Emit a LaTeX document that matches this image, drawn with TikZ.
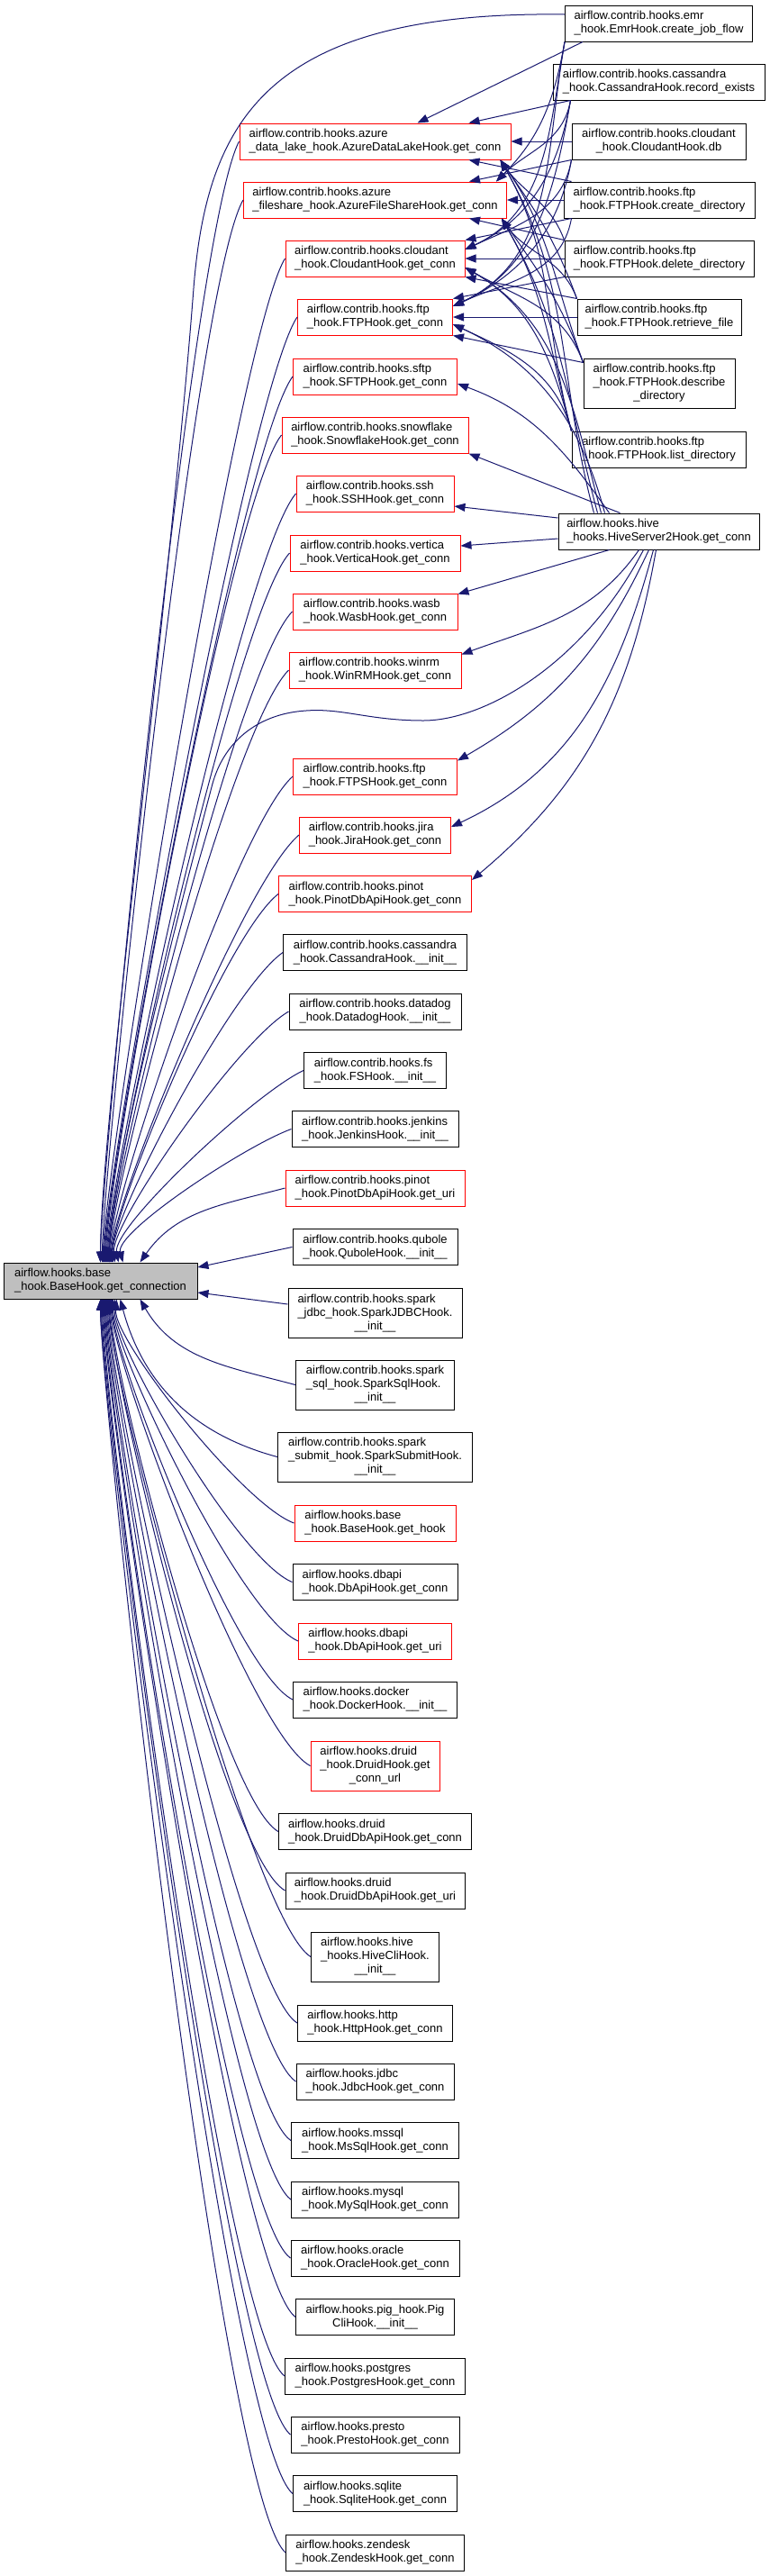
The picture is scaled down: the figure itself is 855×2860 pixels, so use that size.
\documentclass[tikz,border=0pt]{standalone}
\usepackage{fontspec}
\setmainfont{Liberation Sans}
\usepackage{xcolor}
\definecolor{edgeBlue}{HTML}{191970}
\definecolor{hookRed}{HTML}{FF0000}
\definecolor{baseGray}{HTML}{BFBFBF}
\usetikzlibrary{arrows.meta}

\newcommand{\hookfont}{\fontsize{3.25}{3.75}\selectfont}
\newcommand{\twol}[2]{\begin{tabular}{@{}l@{}}#1\\\multicolumn{1}{@{}c@{}}{#2}\end{tabular}}
\newcommand{\threel}[3]{\begin{tabular}{@{}l@{}}#1\\#2\\\multicolumn{1}{@{}c@{}}{#3}\end{tabular}}

\tikzset{
  fn/.style={draw=black, line width=0.25pt, rectangle, inner sep=0pt, minimum height=10pt, font=\hookfont},
  fnred/.style={fn, draw=hookRed},
  fnbase/.style={fn, fill=baseGray},
  tall/.style={minimum height=13.75pt},
  bw/.style={minimum width=#1*0.25pt},
  calledge/.style={draw=edgeBlue, line width=0.25pt, -{Triangle[length=3pt,width=2.25pt]}},
}

\begin{document}
\begin{tikzpicture}[x=0.25pt, y=0.25pt]
  \path[use as bounding box, fill=white] (0,0) rectangle (855,-2860);

  % caller on the left
  \node[fnbase, bw=215] (base) at (111.5,-1422) {\twol{airflow.hooks.base}{\_hook.BaseHook.get\_connection}};

  % middle column
  \node[fnred, bw=301] (adl) at (416.5,-157) {\twol{airflow.contrib.hooks.azure}{\_data\_lake\_hook.AzureDataLakeHook.get\_conn}};
  \node[fnred, bw=292] (afs) at (416.5,-222) {\twol{airflow.contrib.hooks.azure}{\_fileshare\_hook.AzureFileShareHook.get\_conn}};
  \node[fnred, bw=199] (cldc) at (416.5,-287) {\twol{airflow.contrib.hooks.cloudant}{\_hook.CloudantHook.get\_conn}};
  \node[fnred, bw=172] (ftpc) at (416.5,-352) {\twol{airflow.contrib.hooks.ftp}{\_hook.FTPHook.get\_conn}};
  \node[fnred, bw=182] (sftp) at (416.5,-418) {\twol{airflow.contrib.hooks.sftp}{\_hook.SFTPHook.get\_conn}};
  \node[fnred, bw=207] (snow) at (416.5,-483) {\twol{airflow.contrib.hooks.snowflake}{\_hook.SnowflakeHook.get\_conn}};
  \node[fnred, bw=175] (ssh) at (416.5,-548) {\twol{airflow.contrib.hooks.ssh}{\_hook.SSHHook.get\_conn}};
  \node[fnred, bw=189] (vert) at (416.5,-614) {\twol{airflow.contrib.hooks.vertica}{\_hook.VerticaHook.get\_conn}};
  \node[fnred, bw=183] (wasb) at (416.5,-679) {\twol{airflow.contrib.hooks.wasb}{\_hook.WasbHook.get\_conn}};
  \node[fnred, bw=191] (winrm) at (416.5,-744) {\twol{airflow.contrib.hooks.winrm}{\_hook.WinRMHook.get\_conn}};
  \node[fnred, bw=182] (ftps) at (416.5,-862) {\twol{airflow.contrib.hooks.ftp}{\_hook.FTPSHook.get\_conn}};
  \node[fnred, bw=168] (jira) at (416.5,-927) {\twol{airflow.contrib.hooks.jira}{\_hook.JiraHook.get\_conn}};
  \node[fnred, bw=214] (pinc) at (416.5,-992.5) {\twol{airflow.contrib.hooks.pinot}{\_hook.PinotDbApiHook.get\_conn}};
  \node[fn, bw=204] (cass) at (416.5,-1057.5) {\twol{airflow.contrib.hooks.cassandra}{\_hook.CassandraHook.\_\_init\_\_}};
  \node[fn, bw=191] (ddog) at (416.5,-1123) {\twol{airflow.contrib.hooks.datadog}{\_hook.DatadogHook.\_\_init\_\_}};
  \node[fn, bw=158] (fs) at (416.5,-1188.5) {\twol{airflow.contrib.hooks.fs}{\_hook.FSHook.\_\_init\_\_}};
  \node[fn, bw=185] (jenk) at (416.5,-1253.5) {\twol{airflow.contrib.hooks.jenkins}{\_hook.JenkinsHook.\_\_init\_\_}};
  \node[fnred, bw=199] (pinu) at (416.5,-1319) {\twol{airflow.contrib.hooks.pinot}{\_hook.PinotDbApiHook.get\_uri}};
  \node[fn, bw=183] (qub) at (416.5,-1384.5) {\twol{airflow.contrib.hooks.qubole}{\_hook.QuboleHook.\_\_init\_\_}};
  \node[fn, bw=193, tall] (sjdbc) at (416.5,-1458) {\threel{airflow.contrib.hooks.spark}{\_jdbc\_hook.SparkJDBCHook.}{\_\_init\_\_}};
  \node[fn, bw=176, tall] (ssql) at (416.5,-1537.5) {\threel{airflow.contrib.hooks.spark}{\_sql\_hook.SparkSqlHook.}{\_\_init\_\_}};
  \node[fn, bw=216, tall] (ssub) at (416.5,-1617.5) {\threel{airflow.contrib.hooks.spark}{\_submit\_hook.SparkSubmitHook.}{\_\_init\_\_}};
  \node[fnred, bw=179] (geth) at (416.5,-1691) {\twol{airflow.hooks.base}{\_hook.BaseHook.get\_hook}};
  \node[fn, bw=183] (dbc) at (416.5,-1756.5) {\twol{airflow.hooks.dbapi}{\_hook.DbApiHook.get\_conn}};
  \node[fnred, bw=170] (dbu) at (416.5,-1822) {\twol{airflow.hooks.dbapi}{\_hook.DbApiHook.get\_uri}};
  \node[fn, bw=182] (dock) at (416.5,-1887) {\twol{airflow.hooks.docker}{\_hook.DockerHook.\_\_init\_\_}};
  \node[fnred, bw=143, tall] (drurl) at (416.5,-1960.5) {\threel{airflow.hooks.druid}{\_hook.DruidHook.get}{\_conn\_url}};
  \node[fn, bw=214] (drc) at (416.5,-2033.5) {\twol{airflow.hooks.druid}{\_hook.DruidDbApiHook.get\_conn}};
  \node[fn, bw=199] (dru) at (416.5,-2099) {\twol{airflow.hooks.druid}{\_hook.DruidDbApiHook.get\_uri}};
  \node[fn, bw=142, tall] (hcli) at (416.5,-2172.5) {\threel{airflow.hooks.hive}{\_hooks.HiveCliHook.}{\_\_init\_\_}};
  \node[fn, bw=172] (http) at (416.5,-2246) {\twol{airflow.hooks.http}{\_hook.HttpHook.get\_conn}};
  \node[fn, bw=175] (jdbc) at (416.5,-2311) {\twol{airflow.hooks.jdbc}{\_hook.JdbcHook.get\_conn}};
  \node[fn, bw=186] (mssql) at (416.5,-2376.5) {\twol{airflow.hooks.mssql}{\_hook.MsSqlHook.get\_conn}};
  \node[fn, bw=186] (mysql) at (416.5,-2442) {\twol{airflow.hooks.mysql}{\_hook.MySqlHook.get\_conn}};
  \node[fn, bw=187] (orcl) at (416.5,-2507) {\twol{airflow.hooks.oracle}{\_hook.OracleHook.get\_conn}};
  \node[fn, bw=176] (pig) at (416.5,-2572.5) {\twol{airflow.hooks.pig\_hook.Pig}{CliHook.\_\_init\_\_}};
  \node[fn, bw=200] (pg) at (416.5,-2638) {\twol{airflow.hooks.postgres}{\_hook.PostgresHook.get\_conn}};
  \node[fn, bw=187] (presto) at (416.5,-2703) {\twol{airflow.hooks.presto}{\_hook.PrestoHook.get\_conn}};
  \node[fn, bw=182] (sqlite) at (416.5,-2768.5) {\twol{airflow.hooks.sqlite}{\_hook.SqliteHook.get\_conn}};
  \node[fn, bw=198] (zen) at (416.5,-2834) {\twol{airflow.hooks.zendesk}{\_hook.ZendeskHook.get\_conn}};

  % right column
  \node[fn, bw=208] (emr) at (731.5,-26) {\twol{airflow.contrib.hooks.emr}{\_hook.EmrHook.create\_job\_flow}};
  \node[fn, bw=235] (cassrec) at (731.5,-91) {\twol{airflow.contrib.hooks.cassandra}{\_hook.CassandraHook.record\_exists}};
  \node[fn, bw=193] (cloudb) at (731.5,-157) {\twol{airflow.contrib.hooks.cloudant}{\_hook.CloudantHook.db}};
  \node[fn, bw=212] (mkdir) at (732,-222) {\twol{airflow.contrib.hooks.ftp}{\_hook.FTPHook.create\_directory}};
  \node[fn, bw=210] (rmdir) at (732,-287) {\twol{airflow.contrib.hooks.ftp}{\_hook.FTPHook.delete\_directory}};
  \node[fn, bw=182] (retr) at (732,-352) {\twol{airflow.contrib.hooks.ftp}{\_hook.FTPHook.retrieve\_file}};
  \node[fn, bw=168, tall] (desc) at (732,-425.5) {\threel{airflow.contrib.hooks.ftp}{\_hook.FTPHook.describe}{\_directory}};
  \node[fn, bw=193] (listdir) at (731.5,-499) {\twol{airflow.contrib.hooks.ftp}{\_hook.FTPHook.list\_directory}};
  \node[fn, bw=223] (hive2) at (731.5,-590) {\twol{airflow.hooks.hive}{\_hooks.HiveServer2Hook.get\_conn}};

  % right column -> get_conn group
  \draw[calledge] ([xshift=5pt]emr.south west) -- ([xshift=11.75pt]adl.north);
  \draw[calledge] ([xshift=5pt]cassrec.south west) -- ([xshift=-11.75pt]adl.north east);
  \draw[calledge] (cloudb.west) -- (adl.east);
  \draw[calledge] ([xshift=2.25pt]mkdir.north west) -- ([xshift=-11.75pt]adl.south east);
  \draw[calledge] (rmdir.north west) to[out=110,in=-55] ([xshift=-3pt]adl.south east);
  \draw[calledge] (retr.north west) to[out=110,in=-55] ([xshift=-3pt]adl.south east);
  \draw[calledge] ([yshift=-1.25pt]desc.north west) to[out=110,in=-55] ([xshift=-3pt]adl.south east);
  \draw[calledge] (listdir.north west) to[out=105,in=-60] ([xshift=-3pt]adl.south east);
  \draw[calledge] ([xshift=10pt]hive2.north west) to[out=105,in=-60] ([xshift=-3pt]adl.south east);

  \draw[calledge] (emr.south west) to[out=-100,in=45] ([xshift=-3pt]afs.north east);
  \draw[calledge] ([xshift=5pt]cassrec.south west) to[out=-100,in=45] ([xshift=-3pt]afs.north east);
  \draw[calledge] (cloudb.south west) -- ([xshift=-10.5pt]afs.north east);
  \draw[calledge] (mkdir.west) -- (afs.east);
  \draw[calledge] (rmdir.north west) -- ([xshift=-10.5pt]afs.south east);
  \draw[calledge] (retr.north west) to[out=110,in=-55] ([xshift=-1.5pt]afs.south east);
  \draw[calledge] ([yshift=-1.25pt]desc.north west) to[out=110,in=-55] ([xshift=-1.5pt]afs.south east);
  \draw[calledge] (listdir.north west) to[out=105,in=-60] ([xshift=-1.5pt]afs.south east);
  \draw[calledge] ([xshift=11pt]hive2.north west) to[out=105,in=-60] ([xshift=-1.5pt]afs.south east);

  \draw[calledge] (emr.south west) to[out=-100,in=25] ([yshift=2.5pt]cldc.east);
  \draw[calledge] ([xshift=5pt]cassrec.south west) to[out=-100,in=25] ([yshift=2.5pt]cldc.east);
  \draw[calledge] (cloudb.south west) to[out=-100,in=25] ([yshift=2.5pt]cldc.east);
  \draw[calledge] ([xshift=2.25pt]mkdir.south west) -- (cldc.north east);
  \draw[calledge] (rmdir.west) -- (cldc.east);
  \draw[calledge] (retr.north west) -- (cldc.south east);
  \draw[calledge] ([yshift=-1.25pt]desc.north west) to[out=110,in=-30] ([yshift=-2.5pt]cldc.east);
  \draw[calledge] (listdir.north west) to[out=105,in=-30] ([yshift=-2.5pt]cldc.east);
  \draw[calledge] ([xshift=12pt]hive2.north west) to[out=105,in=-30] ([yshift=-2.5pt]cldc.east);

  \draw[calledge] (emr.south west) to[out=-100,in=25] ([yshift=3pt]ftpc.east);
  \draw[calledge] ([xshift=5pt]cassrec.south west) to[out=-100,in=25] ([yshift=3pt]ftpc.east);
  \draw[calledge] (cloudb.south west) to[out=-100,in=25] ([yshift=3pt]ftpc.east);
  \draw[calledge] ([xshift=2.25pt]mkdir.south west) to[out=-100,in=25] ([yshift=3pt]ftpc.east);
  \draw[calledge] (rmdir.south west) -- (ftpc.north east);
  \draw[calledge] (retr.west) -- (ftpc.east);
  \draw[calledge] ([yshift=-1.25pt]desc.north west) -- (ftpc.south east);
  \draw[calledge] (listdir.north west) to[out=105,in=-25] ([yshift=-2pt]ftpc.east);
  \draw[calledge] ([xshift=13pt]hive2.north west) to[out=105,in=-25] ([yshift=-2pt]ftpc.east);

  % HiveServer2Hook.get_conn -> other get_conn
  \draw[calledge] ([xshift=-13.75pt]hive2.north) to[out=125,in=-20] ([yshift=-2pt]sftp.east);
  \draw[calledge] ([xshift=-10.75pt]hive2.north) -- (snow.south east);
  \draw[calledge] ([yshift=3.75pt]hive2.west) -- ([yshift=-3.5pt]ssh.east);
  \draw[calledge] ([yshift=-2pt]hive2.west) -- ([yshift=2pt]vert.east);
  \draw[calledge] ([xshift=-13.75pt]hive2.south) -- ([yshift=-0.25pt]wasb.north east);
  \draw[calledge] ([xshift=-5.5pt]hive2.south) to[out=-125,in=20] ([yshift=-0.75pt]winrm.north east);
  \draw[calledge] ([xshift=-2.75pt]hive2.south) to[out=-115,in=30] ([yshift=-0.75pt]ftps.north east);
  \draw[calledge] ([xshift=-1.5pt]hive2.south) to[out=-105,in=25] ([yshift=2.25pt]jira.east);
  \draw[calledge] ([xshift=-0.75pt]hive2.south) to[out=-100,in=40] ([yshift=-1.25pt]pinc.north east);
  \draw[calledge] ([xshift=-4.25pt]hive2.south) .. controls (650,-735) and (540,-800) .. (470,-800)
    .. controls (410,-800) and (380,-786) .. (340,-789)
    .. controls (290,-792) and (250,-820) .. (236,-870)
    .. controls (215,-950) and (122,-1300) .. ([xshift=2.5pt]base.north);

  % emr straight to base
  \draw[calledge] ([yshift=2.5pt]emr.west) .. controls (300,-12) and (230,-130) .. (215,-320)
    .. controls (190,-650) and (112,-1250) .. (base.north);

  % callers above the base node
  \draw[calledge] (adl.west) .. controls +(242:115) and +(90:90) .. (base.north);
  \draw[calledge] (afs.west) .. controls +(240:110) and +(90:90) .. ([xshift=0.5pt]base.north);
  \draw[calledge] (cldc.west) .. controls +(238:100) and +(90:90) .. ([xshift=0.75pt]base.north);
  \draw[calledge] (ftpc.west) .. controls +(236:100) and +(90:85) .. ([xshift=1pt]base.north);
  \draw[calledge] (sftp.west) .. controls +(234:100) and +(90:85) .. ([xshift=1.25pt]base.north);
  \draw[calledge] (snow.west) .. controls +(232:95) and +(90:80) .. ([xshift=1.5pt]base.north);
  \draw[calledge] (ssh.west) .. controls +(230:95) and +(90:80) .. ([xshift=1.75pt]base.north);
  \draw[calledge] (vert.west) .. controls +(228:90) and +(90:75) .. ([xshift=2pt]base.north);
  \draw[calledge] (wasb.west) .. controls +(226:90) and +(90:75) .. ([xshift=2.25pt]base.north);
  \draw[calledge] (winrm.west) .. controls +(225:90) and +(90:70) .. ([xshift=2.5pt]base.north);
  \draw[calledge] (ftps.west) .. controls +(222:85) and +(90:65) .. ([xshift=2.75pt]base.north);
  \draw[calledge] (jira.west) .. controls +(220:80) and +(90:60) .. ([xshift=3pt]base.north);
  \draw[calledge] (pinc.west) .. controls +(218:75) and +(90:55) .. ([xshift=3.25pt]base.north);
  \draw[calledge] (cass.west) .. controls +(215:70) and +(92:50) .. ([xshift=3.5pt]base.north);
  \draw[calledge] (ddog.west) .. controls +(210:65) and +(95:45) .. ([xshift=4pt]base.north);
  \draw[calledge] (fs.west) .. controls +(205:60) and +(100:40) .. ([xshift=5pt]base.north);
  \draw[calledge] (jenk.west) .. controls +(200:55) and +(105:35) .. ([xshift=6.25pt]base.north);
  \draw[calledge] (pinu.west) to[out=195,in=55] ([xshift=11pt]base.north);
  \draw[calledge] (qub.west) -- ([yshift=3.75pt]base.east);

  % callers below the base node
  \draw[calledge] ([yshift=2.5pt]sjdbc.west) -- ([yshift=-3.25pt]base.east);
  \draw[calledge] (ssql.west) to[out=165,in=-60] ([xshift=11pt]base.south);
  \draw[calledge] (ssub.west) to[out=165,in=-75] ([xshift=5.5pt]base.south);
  \draw[calledge] (geth.west) .. controls +(160:60) and +(-95:45) .. ([xshift=4.5pt]base.south);
  \draw[calledge] (dbc.west) .. controls +(158:65) and +(-92:50) .. ([xshift=4pt]base.south);
  \draw[calledge] (dbu.west) .. controls +(156:70) and +(-90:55) .. ([xshift=3.5pt]base.south);
  \draw[calledge] (dock.west) .. controls +(154:70) and +(-90:60) .. ([xshift=3.25pt]base.south);
  \draw[calledge] (drurl.west) .. controls +(152:75) and +(-90:65) .. ([xshift=3pt]base.south);
  \draw[calledge] (drc.west) .. controls +(150:75) and +(-90:70) .. ([xshift=2.75pt]base.south);
  \draw[calledge] (dru.west) .. controls +(150:80) and +(-90:75) .. ([xshift=2.5pt]base.south);
  \draw[calledge] (hcli.west) .. controls +(148:80) and +(-90:75) .. ([xshift=2.25pt]base.south);
  \draw[calledge] (http.west) .. controls +(148:80) and +(-90:80) .. ([xshift=2pt]base.south);
  \draw[calledge] (jdbc.west) .. controls +(146:85) and +(-90:80) .. ([xshift=1.75pt]base.south);
  \draw[calledge] (mssql.west) .. controls +(146:85) and +(-90:85) .. ([xshift=1.5pt]base.south);
  \draw[calledge] (mysql.west) .. controls +(144:85) and +(-90:85) .. ([xshift=1.25pt]base.south);
  \draw[calledge] (orcl.west) .. controls +(144:90) and +(-90:90) .. ([xshift=1pt]base.south);
  \draw[calledge] (pig.west) .. controls +(142:90) and +(-90:90) .. ([xshift=0.75pt]base.south);
  \draw[calledge] (pg.west) .. controls +(142:90) and +(-90:95) .. ([xshift=0.5pt]base.south);
  \draw[calledge] (presto.west) .. controls +(140:95) and +(-90:95) .. ([xshift=0.25pt]base.south);
  \draw[calledge] (sqlite.west) .. controls +(140:95) and +(-90:100) .. (base.south);
  \draw[calledge] (zen.west) .. controls +(138:100) and +(-90:100) .. (base.south);
\end{tikzpicture}
\end{document}
